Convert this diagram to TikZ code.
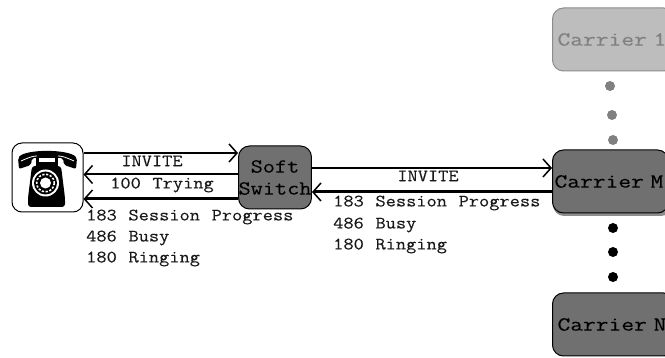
\documentclass[tikz,border=0pt]{standalone}
\usepackage{fontspec}
\newfontfamily\slabfont[FakeStretch=1.14,FakeBold=0.2,WordSpace={1.14,0,0}]{Latin Modern Mono}
\newfontfamily\softfont[FakeStretch=1.18,FakeBold=0.1,WordSpace={1.18,0,0}]{Latin Modern Mono}
\newfontfamily\carrierfont[FakeStretch=1.24,FakeBold=0.1,WordSpace={1.24,0,0}]{Latin Modern Mono}
\definecolor{boxdark}{HTML}{707070}
\definecolor{boxlight}{HTML}{BDBDBD}
\definecolor{dotgrey}{HTML}{808080}
\usetikzlibrary{arrows.meta}
\tikzset{
  x=1pt,y=-1pt,
  box/.style={draw=black,line width=1pt,rounded corners=11pt,fill=boxdark,minimum height=63pt,font=\softfont\fontsize{20}{21}\selectfont},
  carrier/.style={box,anchor=west,text width=112pt,align=left,font=\carrierfont\fontsize{20}{21}\selectfont},
  faded/.style={fill=boxlight,draw=black!45,text=black!50},
  msg/.style={font=\slabfont\fontsize{17.4}{18}\selectfont,inner sep=0pt,text=black!90},
  msgleft/.style={msg,anchor=west},
  link/.style={line width=2pt,-{Straight Barb[length=8pt,width=18pt,line width=1.5pt]}},
  thick link/.style={link,line width=3pt},
  blackdot/.style={circle,fill=black,inner sep=0pt,minimum size=10pt},
  greydot/.style={circle,fill=dotgrey,inner sep=0pt,minimum size=10pt},
}
\begin{document}
\begin{tikzpicture}
\clip (0,0) rectangle (665,358);
\fill[white] (0,0) rectangle (665,358);

% nodes
\node[draw=black,line width=1pt,rounded corners=10pt,fill=white,minimum width=71pt,minimum height=69pt,inner sep=0pt] (phone) at (47.5,177.5) {};
\node[box,minimum width=72pt,align=center,inner sep=0pt] (soft) at (275,177.5) {Soft\\[1pt]Switch};
\fill[black!45,rounded corners=11pt] (553,156) rectangle (672,216);
\node[carrier,inner xsep=2pt] (carrierM) at (552,181.5) {Carrier M};
\node[carrier,faded,inner xsep=5pt] (carrierA) at (552,39.5) {Carrier 1};
\node[carrier,inner xsep=5pt] (carrierN) at (552,324.5) {Carrier N};

% telephone
\fill[black,rounded corners=2pt] (19,169) -- (18,158) .. controls (26,149) and (68,149) .. (77,158) -- (76,169) -- (64,165) -- (63,158) -- (32,158) -- (31,165) -- cycle;
\draw[white,line width=.8pt] (21,161) .. controls (30,157) and (33,156) .. (37,156);
\draw[white,line width=.8pt] (74,161) .. controls (65,157) and (62,156) .. (58,156);
\fill[black] (36,157) rectangle (39,168);
\fill[black] (55,157) rectangle (58,168);
\fill[white] (39,158) rectangle (55,162);
\fill[black] (37,162) rectangle (57,166);
\fill[black,rounded corners=3pt] (32,166) -- (61,166) -- (65,198) -- (65,207) -- (28,207) -- (28,198) -- cycle;
\fill[white] (45.5,183) circle (13.5);
\fill[black] (45.5,183) circle (11.5);
\draw[white,line width=1.6pt,dash pattern=on 2.2pt off 1.6pt] (45.5,183) circle (8.8);
\fill[white] (45.5,183) circle (5.5);

% connectors
\draw[link] ([yshift=24.5pt]phone.east) -- ([yshift=24.5pt]soft.west);
\draw[link] ([yshift=3pt]soft.west) -- ([yshift=3pt]phone.east);
\draw[thick link] ([yshift=-21.5pt]soft.west) -- ([yshift=-21.5pt]phone.east);
\draw[link] ([yshift=9.5pt]soft.east) -- ([yshift=13.5pt]carrierM.west);
\draw[thick link] ([yshift=-10.5pt]carrierM.west) -- ([yshift=-14.5pt]soft.east);

% labels
\node[msg] (inviteA) at (152,161) {INVITE};
\node[msg] (trying) at (162,185) {100 Trying};
\node[msgleft] (progA) at (86,217) {183 Session Progress};
\node[msgleft] (busyA) at (86,238) {486 Busy};
\node[msgleft] (ringA) at (86,259) {180 Ringing};
\node[msg] (inviteB) at (428,176) {INVITE};
\node[msgleft] (progB) at (333,203) {183 Session Progress};
\node[msgleft] (busyB) at (333,225) {486 Busy};
\node[msgleft] (ringB) at (333,246) {180 Ringing};

% dots
\node[greydot] (g1) at (610,86) {};
\node[greydot] (g2) at (612,115) {};
\node[greydot] (g3) at (613,140) {};
\node[blackdot] (b1) at (613,228) {};
\node[blackdot] (b2) at (613,252) {};
\node[blackdot] (b3) at (613,277) {};
\end{tikzpicture}
\end{document}
